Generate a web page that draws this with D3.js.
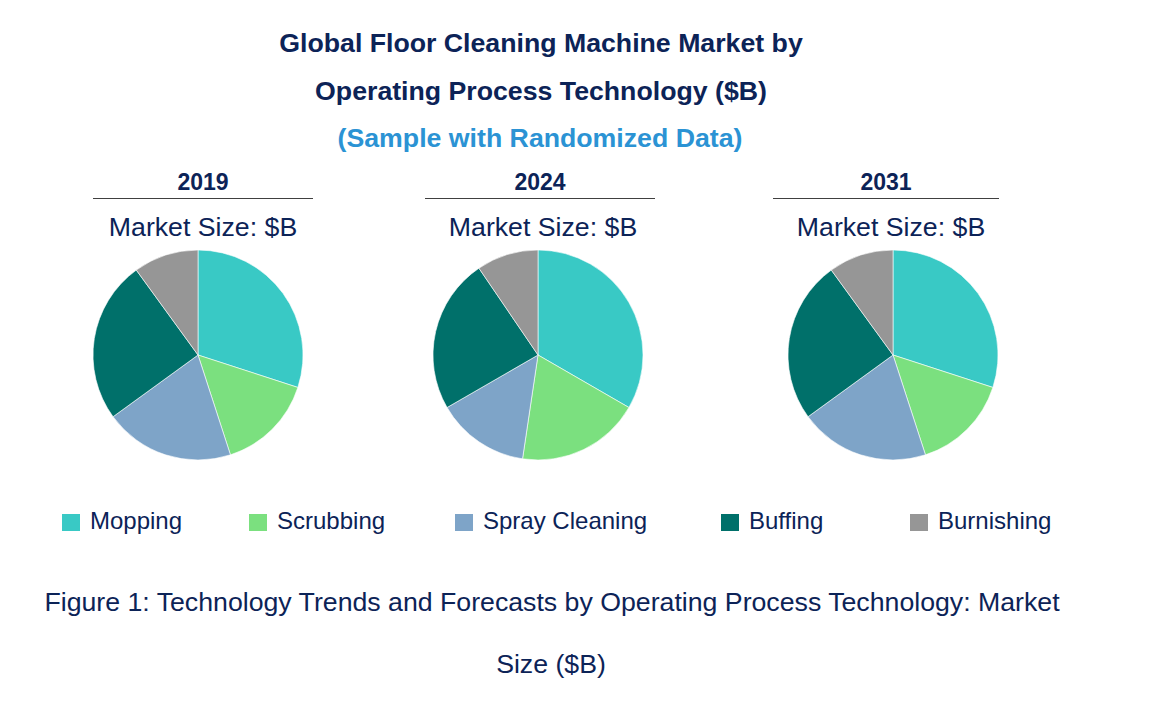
<!DOCTYPE html>
<html lang="en">
<head>
    <meta charset="UTF-8">
    <title>Global Floor Cleaning Machine Market</title>
    <script src="https://d3js.org/d3.v7.min.js"></script>
    <style>
        body { margin: 0; background: #fff; }
        svg { display: block; font-family: "Liberation Sans", Arial, sans-serif; }
    </style>
</head>
<body>
    <svg width="1170" height="711"></svg>
    <script>
        // categories and shares per year (percent of market)
        var categories = ["Mopping", "Scrubbing", "Spray Cleaning", "Buffing", "Burnishing"];
        var years = ["2019", "2024", "2031"];
        var share2019 = [30, 15, 20, 25, 10];
        var share2024 = [33.3, 19.0, 14.3, 23.8, 9.5];
        var share2031 = [30, 15, 20, 25, 10];
        var colors = ["#39c9c5", "#7be07f", "#7ea4c8", "#00706a", "#969696"];

        var series = [share2019, share2024, share2031];

        var svg = d3.select("svg");
        var navy = "#0c2357";

        // titles
        svg.append("text").attr("x", 541).attr("y", 52)
            .attr("text-anchor", "middle").attr("font-size", 26.7).attr("font-weight", "bold")
            .attr("fill", navy).text("Global Floor Cleaning Machine Market by");
        svg.append("text").attr("x", 541).attr("y", 100)
            .attr("text-anchor", "middle").attr("font-size", 26.7).attr("font-weight", "bold")
            .attr("fill", navy).text("Operating Process Technology ($B)");
        svg.append("text").attr("x", 540).attr("y", 147)
            .attr("text-anchor", "middle").attr("font-size", 26.7).attr("font-weight", "bold")
            .attr("fill", "#2b93d4").text("(Sample with Randomized Data)");

        // pie layout
        var pie = d3.pie().sort(null).value(function(d) { return d; });
        var radius = 105;
        var arc = d3.arc().innerRadius(0).outerRadius(radius);

        var pieCx = { "2019": 198, "2024": 538, "2031": 893 };
        var headCx = { "2019": 203, "2024": 540, "2031": 886 };
        var lineSpan = { "2019": [93, 313], "2024": [425, 655], "2031": [773, 999] };
        var sizeCx = { "2019": 203, "2024": 543, "2031": 891 };

        years.forEach(function(y, i) {
            var g = svg.append("g");
            g.append("text").attr("x", headCx[y]).attr("y", 190)
                .attr("text-anchor", "middle").attr("font-size", 23).attr("font-weight", "bold")
                .attr("fill", navy).text(y);
            g.append("line")
                .attr("x1", lineSpan[y][0]).attr("x2", lineSpan[y][1])
                .attr("y1", 198.5).attr("y2", 198.5)
                .attr("stroke", "#404040").attr("stroke-width", 1.2);
            g.append("text").attr("x", sizeCx[y]).attr("y", 236)
                .attr("text-anchor", "middle").attr("font-size", 26.7)
                .attr("fill", navy).text("Market Size: $B");

            var pg = g.append("g")
                .attr("transform", "translate(" + pieCx[y] + ",355)");
            pg.selectAll("path")
                .data(pie(series[i]))
                .enter().append("path")
                .attr("d", arc)
                .attr("fill", function(d, j) { return colors[j]; })
                .attr("stroke", "#ffffff")
                .attr("stroke-width", 0.6);
        });

        // legend
        var legX = [62, 249, 455, 721, 910];
        var legend = svg.append("g");
        categories.forEach(function(c, i) {
            legend.append("rect")
                .attr("x", legX[i]).attr("y", 514)
                .attr("width", 18).attr("height", 17)
                .attr("fill", colors[i]);
            legend.append("text")
                .attr("x", legX[i] + 28).attr("y", 529)
                .attr("font-size", 24).attr("fill", navy).text(c);
        });

        // caption
        svg.append("text").attr("x", 552).attr("y", 611)
            .attr("text-anchor", "middle").attr("font-size", 26.7).attr("fill", navy)
            .text("Figure 1: Technology Trends and Forecasts by Operating Process Technology: Market");
        svg.append("text").attr("x", 551).attr("y", 673)
            .attr("text-anchor", "middle").attr("font-size", 26.7).attr("fill", navy)
            .text("Size ($B)");
    </script>
</body>
</html>
